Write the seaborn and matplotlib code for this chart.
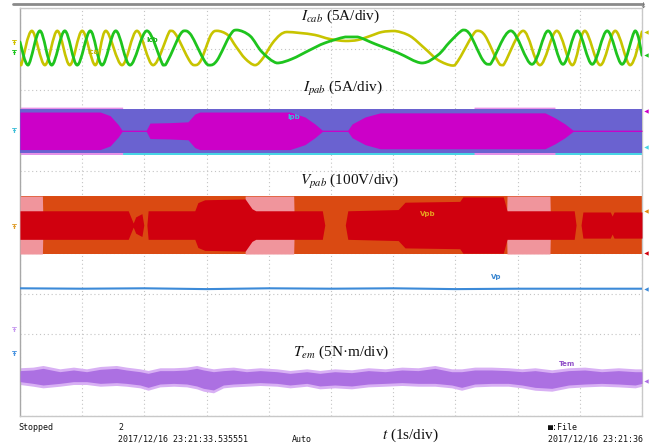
import numpy as np
import matplotlib
matplotlib.use("Agg")
import matplotlib.pyplot as plt
from matplotlib.path import Path
from matplotlib.patches import PathPatch
import seaborn as sns

# ---------------- data ----------------
# time axis: 1 s/div, 10 divisions
grid_x = list(range(11))
grid_y = list(range(11))

# Icab (A): phase currents ica (yellow) and icb (green) - extrema and a few shape points
ica_t = [0.00, 0.02, 0.19, 0.40, 0.60, 0.80, 1.00, 1.21, 1.38, 1.64, 1.88, 2.14, 2.41, 2.51, 2.72,
         2.81, 2.91, 3.07, 3.17, 3.34, 3.47, 3.62, 3.78, 3.91, 4.05, 4.18, 4.29, 4.50, 4.74, 4.98,
         5.23, 5.43, 5.63, 5.82, 6.03, 6.27, 6.50, 6.72, 6.95, 7.04, 7.27, 7.36, 7.48, 7.67, 7.77,
         8.09, 8.36, 8.63, 8.88, 9.08, 9.33, 9.57, 9.81, 10.0]
ica_a = [-1.84, -2.1, 2.1, -2.1, 2.1, -2.1, 2.1, -2.1, 2.1, -2.1, 2.1, -2.1, 2.1, 1.6, -1.5,
         -2.1, -1.5, 1.6, 2.1, 1.6, 0.2, -1.3, -2.1, -1.2, 0.5, 1.6, 1.96, 1.84, 1.6, 1.1,
         0.86, 0.98, 1.47, 1.96, 2.08, 1.47, 0.0, -1.47, -2.15, -1.6, 1.47, 2.1, 1.47, -1.47, -2.1,
         2.1, -2.1, 2.1, -2.1, 2.1, -2.1, 2.1, -2.1, 2.0]
icb_t = [0.00, 0.13, 0.32, 0.51, 0.72, 0.92, 1.13, 1.32, 1.54, 1.77, 2.04, 2.30, 2.38, 2.57, 2.65,
         2.75, 2.96, 3.05, 3.17, 3.38, 3.49, 3.70, 3.89, 4.13, 4.37, 4.66, 4.90, 5.23, 5.43, 5.71,
         6.08, 6.46, 6.72, 6.91, 7.12, 7.23, 7.44, 7.56, 7.89, 8.23, 8.49, 8.73, 8.96, 9.20, 9.44,
         9.68, 9.89, 10.0]
icb_a = [0.74, -2.1, 2.1, -2.1, 2.1, -2.1, 2.1, -2.1, 2.1, -2.1, 2.1, -2.1, -1.5, 1.6, 2.1,
         1.6, -1.5, -2.1, -1.5, 1.6, 2.2, 1.47, -0.49, -1.84, -1.35, -0.25, 0.61, 1.35, 1.35, 0.49,
         -0.61, -1.84, -0.86, 0.74, 2.2, 1.72, -1.47, -2.0, 2.1, -2.0, 2.1, -2.0, 2.1, -2.0, 2.1,
         -2.0, 2.1, -0.9]

# Ipab (A): envelopes of ipb (blue) and ipa (magenta)
ipb_t = [0.0, 10.0]
ipb_env = [2.7, 2.7]
ipb_edge = [2.95, 2.95]
ipa_t = [0.00, 1.29, 1.45, 1.58, 1.64, 2.03, 2.09, 2.41, 2.70, 2.81, 2.89, 4.34, 4.58, 4.74,
         4.86, 5.27, 5.34, 5.55, 5.79, 8.44, 8.60, 8.76, 8.89, 10.0]
ipa_env = [2.3, 2.3, 1.85, 0.75, 0.08, 0.08, 0.95, 1.0, 1.1, 2.05, 2.3, 2.3, 1.7, 0.85,
           0.08, 0.08, 0.85, 1.7, 2.2, 2.2, 1.6, 0.85, 0.08, 0.08]
ipa_edge_t = [0.00, 1.65, 1.66, 7.29, 7.30, 8.60, 8.61, 10.0]
ipa_edge = [2.9, 2.9, 0.0, 0.0, 2.9, 2.9, 0.0, 0.0]

# Vpab (V): envelopes of vpb (orange) and vpa (red)
vpb_t = [0.0, 10.0]
vpb_env = [71, 71]
vpb_pink_t = [0.00, 0.36, 0.37, 3.61, 3.62, 4.40, 4.41, 7.82, 7.83, 8.52, 8.53, 10.0]
vpb_pink = [71, 71, 0, 0, 71, 71, 0, 0, 71, 71, 0, 0]
vpa_t = [0.00, 1.69, 1.74, 1.82, 1.86, 1.96, 1.99, 2.04, 2.06, 2.81, 2.86, 2.97, 3.62, 3.73,
         3.79, 4.86, 4.90, 5.23, 5.27, 6.08, 6.19, 7.07, 7.12, 7.77, 7.83, 8.91, 8.94, 9.02,
         9.05, 9.49, 9.52, 9.55, 10.0]
vpa_env = [35, 35, 35, 5, 20, 28, 0, 0, 35, 35, 55, 62, 64, 40,
           35, 35, 0, 0, 35, 38, 56, 58, 69, 69, 35, 35, 0, 0,
           32, 32, 22, 32, 32]

# Vp (div above its ground marker)
vp_t = [0, 1, 2, 3, 4, 5, 6, 7, 8, 9, 10]
vp_val = [1.61, 1.60, 1.61, 1.59, 1.61, 1.60, 1.61, 1.59, 1.60, 1.60, 1.60]

# Tem (N·m) noise band, upper / lower envelope
tem_t = [0.00, 0.21, 0.37, 0.64, 0.86, 1.07, 1.29, 1.55, 1.71, 1.93, 2.06, 2.25, 2.47, 2.68,
         2.84, 2.95, 3.11, 3.27, 3.43, 3.64, 3.86, 4.13, 4.34, 4.61, 4.82, 5.06, 5.33, 5.60,
         5.87, 6.14, 6.40, 6.67, 6.94, 7.10, 7.31, 7.58, 7.85, 8.07, 8.28, 8.55, 8.82, 9.08,
         9.35, 9.62, 9.89, 10.0]
tem_hi = [0.56, 0.64, 0.84, 0.43, 0.64, 0.43, 0.72, 0.84, 0.64, 0.43, 0.23, 0.56, 0.56, 0.64,
          0.84, 0.64, 0.43, 0.56, 0.64, 0.43, 0.56, 0.43, 0.23, 0.43, 0.23, 0.43, 0.31, 0.56,
          0.43, 0.64, 0.56, 0.84, 0.43, 0.43, 0.64, 0.64, 0.56, 0.43, 0.56, 0.31, 0.56, 0.64,
          0.43, 0.56, 0.43, 0.43]
tem_lo = [-0.79, -1.00, -1.20, -1.00, -0.79, -0.79, -1.00, -0.91, -1.00, -1.20, -1.49, -1.08,
          -1.00, -1.08, -1.32, -1.61, -1.81, -1.20, -1.08, -1.00, -0.91, -1.00, -1.20, -1.00,
          -1.32, -1.20, -1.32, -1.08, -1.00, -0.91, -1.00, -1.00, -1.20, -1.49, -1.08, -1.00,
          -1.00, -1.20, -1.49, -1.61, -1.20, -1.08, -1.00, -1.08, -1.20, -1.00]

# ---------------- styles / positions ----------------
POS = dict(icab=9.02, ipab=6.99, vpab=4.68, vp=1.52, tem=1.0)     # channel offsets (div)
SCALE = dict(icab=5.0, ipab=5.0, vpab=100.0, vp=1.0, tem=5.0)   # units per div
TEM_FRINGE = 0.35                                               # N·m of light noise fringe

C_YEL, C_GRN = "#c8c400", "#1ec41e"
C_BLUE, C_MAG, C_PINK, C_CYAN = "#6a62d0", "#cc00c8", "#e890e8", "#48d4e4"
C_ORG, C_RED, C_VPINK = "#da4a12", "#d0000e", "#f0959c"
C_VP = "#3c8ad8"
C_TEM, C_TEM2 = "#ac70e2", "#d8b0f4"


def to_div(vals, ch):
    return POS[ch] + np.asarray(vals, dtype=float) / SCALE[ch]


def smooth_trace(ax, t, y, **kw):
    """Draw a smooth Bezier trace through the read points (no overshoot)."""
    p = np.column_stack([np.asarray(t, float), np.asarray(y, float)])
    n = len(p)
    verts, codes = [p[0]], [Path.MOVETO]
    for i in range(n - 1):
        p0 = p[i - 1] if i > 0 else p[i]
        p3 = p[i + 2] if i + 2 < n else p[i + 1]
        c1 = p[i] + (p[i + 1] - p0) / 6.0
        c2 = p[i + 1] - (p3 - p[i]) / 6.0
        lo_y, hi_y = min(p[i][1], p[i + 1][1]), max(p[i][1], p[i + 1][1])
        c1[1] = np.clip(c1[1], lo_y, hi_y)
        c2[1] = np.clip(c2[1], lo_y, hi_y)
        verts += [c1, c2, p[i + 1]]
        codes += [Path.CURVE4] * 3
    patch = PathPatch(Path(verts, codes), fill=False, capstyle="round", joinstyle="round", **kw)
    ax.add_patch(patch)


sns.set_style("white")
plt.rcParams["mathtext.fontset"] = "stix"

W, H = 670, 448
fig = plt.figure(figsize=(W / 100, H / 100), dpi=100)
ax = fig.add_axes([20 / W, 32 / H, 622 / W, 408 / H])
ax.set_xlim(0, 10)
ax.set_ylim(0, 10)
ax.set_xticks(grid_x)
ax.set_yticks(grid_y)
ax.tick_params(length=0, labelbottom=False, labelleft=False)
ax.grid(True, color="#c4c4c4", linestyle=(0, (1, 2.5)), linewidth=0.8)
ax.set_axisbelow(True)
for side, sp in ax.spines.items():
    sp.set_color("#a8a8a8" if side == "left" else "#c8c8c8")
    sp.set_linewidth(1.0)

# Ipab
ax.fill_between(ipb_t, to_div(np.negative(ipb_edge), "ipab"), POS["ipab"], color=C_CYAN, lw=0, zorder=2)
ax.fill_between(ipa_edge_t, to_div(np.negative(ipa_edge), "ipab"), to_div(ipa_edge, "ipab"),
                color=C_PINK, lw=0, zorder=2)
ax.fill_between(ipb_t, to_div(np.negative(ipb_env), "ipab"), to_div(ipb_env, "ipab"),
                color=C_BLUE, lw=0, zorder=3)
ax.fill_between(ipa_t, to_div(np.negative(ipa_env), "ipab"), to_div(ipa_env, "ipab"),
                color=C_MAG, lw=0, zorder=4)

# Vpab
ax.fill_between(vpb_t, to_div(np.negative(vpb_env), "vpab"), to_div(vpb_env, "vpab"),
                color=C_ORG, lw=0, zorder=2)
ax.fill_between(vpb_pink_t, to_div(np.negative(vpb_pink), "vpab"), to_div(vpb_pink, "vpab"),
                color=C_VPINK, lw=0, zorder=3)
ax.fill_between(vpa_t, to_div(np.negative(vpa_env), "vpab"), to_div(vpa_env, "vpab"),
                color=C_RED, lw=0, zorder=4)

# Vp
sns.lineplot(x=vp_t, y=to_div(vp_val, "vp"), color=C_VP, lw=1.5, estimator=None, ax=ax, zorder=5)

# Tem
hi = np.asarray(tem_hi)
lo = np.asarray(tem_lo)
ax.fill_between(tem_t, to_div(lo - TEM_FRINGE, "tem"), to_div(hi + TEM_FRINGE, "tem"),
                color=C_TEM2, lw=0, zorder=2)
ax.fill_between(tem_t, to_div(lo, "tem"), to_div(hi, "tem"), color=C_TEM, lw=0, zorder=3)

# Icab
smooth_trace(ax, ica_t, to_div(ica_a, "icab"), edgecolor=C_YEL, lw=1.9, zorder=6)
smooth_trace(ax, icb_t, to_div(icb_a, "icab"), edgecolor=C_GRN, lw=2.0, zorder=7)
ax.set_xlabel("")
ax.set_ylabel("")

# right-hand level markers
right_marks = [(to_div(ica_a[-1], "icab"), C_YEL), (to_div(icb_a[-1], "icab"), C_GRN),
               (7.48, C_MAG), (6.59, C_CYAN), (5.02, "#e08a10"), (4.00, C_RED),
               (to_div(vp_val[-1], "vp"), C_VP), (0.86, C_TEM)]
for yv, c in right_marks:
    ax.scatter([10.07], [yv], marker="<", s=10, color=c, clip_on=False, zorder=8, linewidths=0)

# left ground markers
left_marks = [(POS["icab"] + 0.12, "#d0c000"), (POS["icab"] - 0.12, C_GRN), (POS["ipab"], "#40c0d8"),
              (4.63, "#e0a030"), (2.11, "#c89cf0"), (POS["vp"], "#4a94e0")]
for yv, c in left_marks:
    ax.text(-0.09, yv, "Ŧ", color=c, fontsize=5, fontweight="bold", ha="center", va="center",
            clip_on=False)


def ftext(x, y, s, **kw):
    fig.text(x / W, 1 - y / H, s, **kw)


serif = dict(family="Liberation Serif", fontsize=11, color="#111111", ha="center", va="center")
ftext(341, 16, r"$I_{cab}$ (5A/div)", **serif)
ftext(343, 89, r"$I_{pab}$ (5A/div)", **serif)
ftext(350, 181, r"$V_{pab}$ (100V/div)", **serif)
ftext(341, 352, r"$T_{em}$ (5N·m/div)", **serif)
ftext(410, 435, r"$t$ (1s/div)", **serif)

small = dict(fontsize=5, fontweight="bold", ha="center", va="center", family="DejaVu Sans")
ftext(93, 52, "Ica", color="#c0b400", **small)
ftext(152, 40, "Icb", color="#18b018", **small)
ftext(294, 117, "Ipb", color="#30c4d8", **small)
ftext(428, 214, "Vpb", color="#e8a020", **small)
ftext(496, 277, "Vp", color="#3a86d0", **small)
ftext(567, 364, "Tem", color="#9050c8", **small)

mono = dict(family="DejaVu Sans Mono", fontsize=6.0, color="#111111", ha="left", va="center")
ftext(18, 427, "Stopped", **mono)
ftext(118, 427, "2", **mono)
ftext(118, 439, "2017/12/16 23:21:33.535551", **mono)
ftext(292, 439, "Auto", **mono)
ftext(548, 427, "■:File", **mono)
ftext(548, 439, "2017/12/16 23:21:36", **mono)

# top status bar line
fig.add_artist(plt.Line2D([13 / W, 643 / W], [1 - 4 / H, 1 - 4 / H], color="#8a8a8a", lw=2))
ftext(643, 6, "↓", fontsize=6, color="#707070", ha="center", va="center")

fig.savefig("out.png", dpi=100)
